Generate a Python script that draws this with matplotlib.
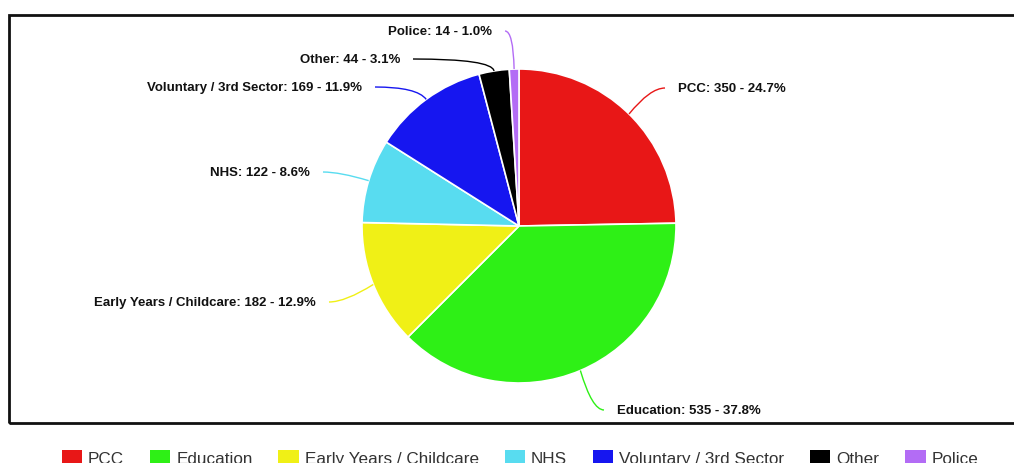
import matplotlib.pyplot as plt
import numpy as np
from matplotlib.patches import Rectangle, PathPatch, Patch
from matplotlib.path import Path

W, H = 1014, 464

categories = ["PCC", "Education", "Early Years / Childcare", "NHS",
              "Voluntary / 3rd Sector", "Other", "Police"]
counts = [350, 535, 182, 122, 169, 44, 14]
percents = [24.7, 37.8, 12.9, 8.6, 11.9, 3.1, 1.0]
colors = ["#e81717", "#2ef016", "#f0f016", "#58dcf0", "#1616f0", "#000000", "#b36cf5"]

# label anchors in screen pixels (x, y from top), side of the pie
label_pos = [(678, 89, "left"), (617, 411, "left"), (316, 303, "right"),
             (310, 173, "right"), (362, 88, "right"), (400, 60, "right"),
             (492, 32, "right")]

cx, cy, r = 519, 227, 157


def py(y):
    return H - y


fig = plt.figure(figsize=(W / 100, H / 100), dpi=100)
ax = fig.add_axes([0, 0, 1, 1])

# chart frame
ax.add_patch(Rectangle((9, py(424)), 1020, 408, fill=False, ec="#111111", lw=2))

wedges, _ = ax.pie(counts, colors=colors, startangle=90, counterclock=False,
                   center=(cx, py(cy)), radius=r, frame=True,
                   wedgeprops=dict(edgecolor="white", linewidth=1.2))
ax.set_xlim(0, W)
ax.set_ylim(0, H)
ax.set_aspect("equal")
ax.axis("off")

for w, name, n, pct, col, (lx, ly, side) in zip(wedges, categories, counts, percents,
                                                colors, label_pos):
    mid = np.deg2rad((w.theta1 + w.theta2) / 2)
    # point on the rim
    px, pyy = cx + r * np.cos(mid), py(cy) + r * np.sin(mid)
    # bend point on the label's line
    ty = py(ly)
    s = np.sin(mid)
    d = (ty - py(cy)) / s if abs(s) > 1e-6 else r + 30
    d = min(d, r + 30)
    bx = cx + d * np.cos(mid)
    ex = lx - 13 if side == "left" else lx + 13
    path = Path([(ex, ty), (bx, ty), (px, pyy)], [Path.MOVETO, Path.CURVE3, Path.CURVE3])
    ax.add_patch(PathPatch(path, fill=False, ec=col, lw=1))
    ax.text(lx, ty, f"{name}: {n} - {pct:.1f}%", ha=side, va="center",
            fontsize=9.5, fontweight="bold", family="Liberation Sans", color="#111111")

handles = [Patch(facecolor=c, edgecolor="none") for c in colors]
leg = ax.legend(handles, categories, ncol=7, loc="center",
                bbox_to_anchor=(520 / W, py(459) / H), bbox_transform=fig.transFigure,
                frameon=False, prop=dict(family="Liberation Sans", size=12.3),
                handlelength=1.2, handleheight=1.0, handletextpad=0.35,
                columnspacing=1.5, borderpad=0)
for t in leg.get_texts():
    t.set_color("#333333")

fig.savefig("out.png", dpi=100)
